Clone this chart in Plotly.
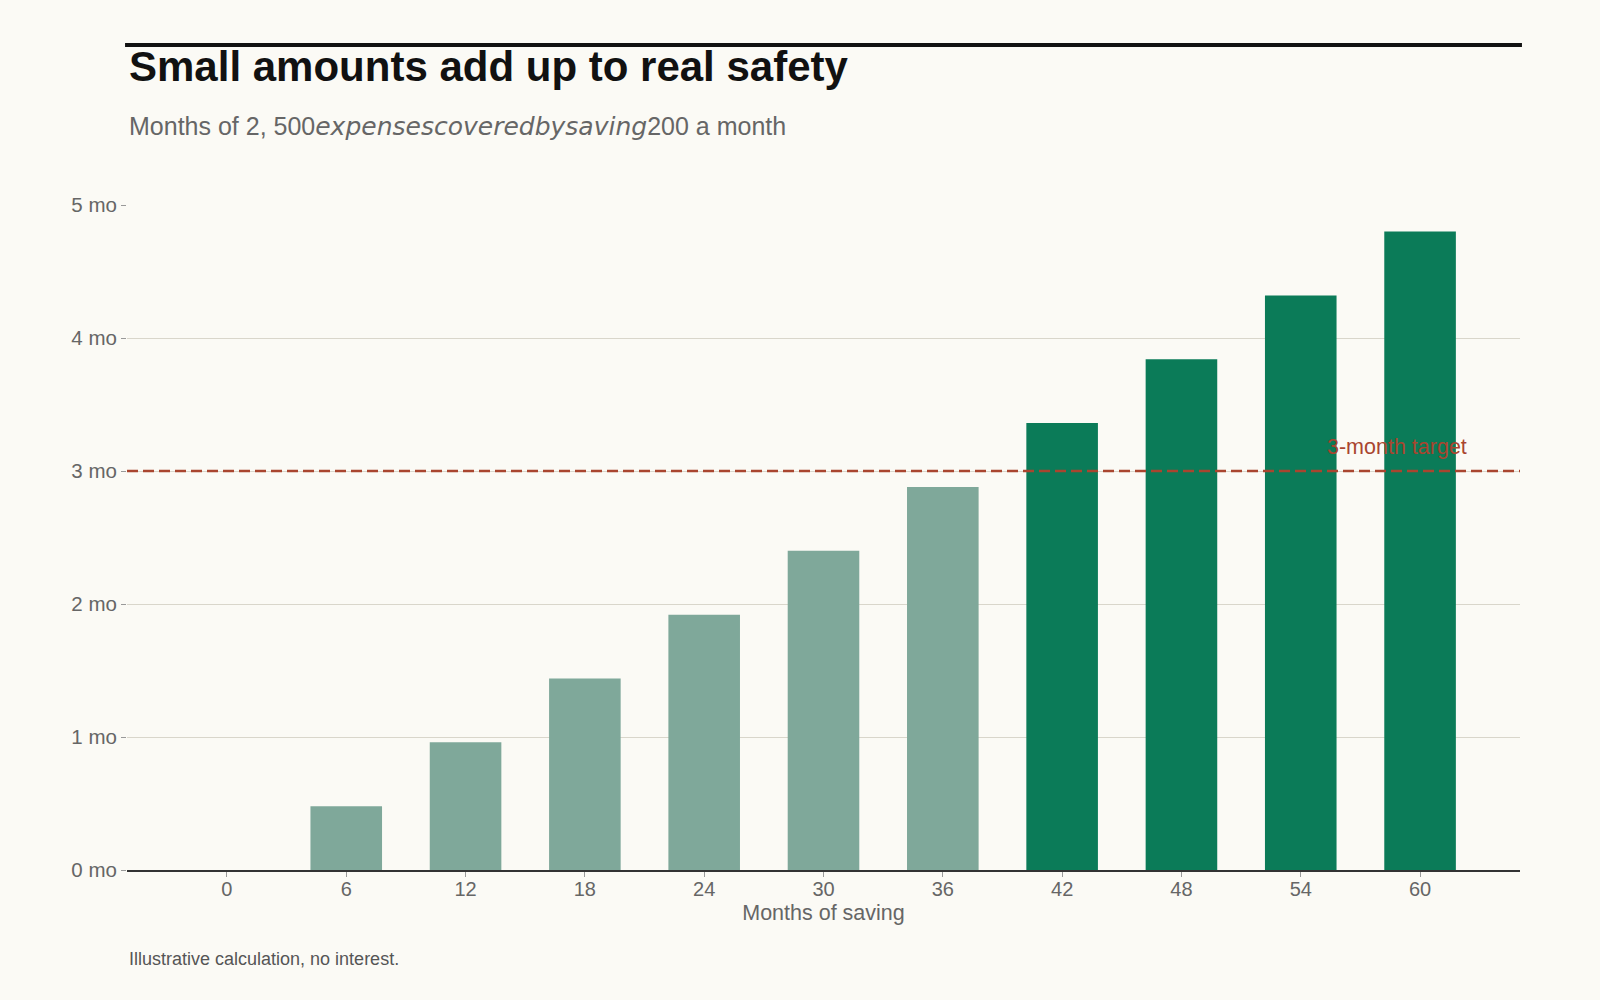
import plotly.graph_objects as go

# ---- data ----
months_saved = ["0", "6", "12", "18", "24", "30", "36", "42", "48", "54", "60"]
coverage_months = [0.0, 0.48, 0.96, 1.44, 1.92, 2.40, 2.88, 3.36, 3.84, 4.32, 4.80]
target_months = 3
y_tick_values = [0, 1, 2, 3, 4, 5]
y_tick_labels = ["0 mo", "1 mo", "2 mo", "3 mo", "4 mo", "5 mo"]

title_text = "Small amounts add up to real safety"
subtitle_parts = ["Months of 2, 500", "expensescoveredbysaving", "200 a month"]
x_title_text = "Months of saving"
target_label = "3-month target"
footnote_text = "Illustrative calculation, no interest."

# ---- styling ----
BG = "#fbfaf5"
LIGHT = "#7fa89a"
DARK = "#0b7b58"
RED = "#a9452f"
GRID = "#d9d6cb"
TXT = "#666666"
FONT = "Liberation Sans, Arial, sans-serif"

bar_colors = [DARK if v >= target_months else LIGHT for v in coverage_months]

subtitle_html = (subtitle_parts[0]
                 + "<i><span style='font-family:DejaVu Sans;font-size:25px'>"
                 + subtitle_parts[1] + "</span></i>" + subtitle_parts[2])

fig = go.Figure()
fig.add_trace(go.Bar(
    x=months_saved,
    y=coverage_months,
    marker=dict(color=bar_colors, line=dict(width=0)),
    hoverinfo="x+y",
))

fig.add_shape(type="line", xref="paper", yref="y", x0=0, x1=1,
              y0=target_months, y1=target_months,
              line=dict(color=RED, width=2.6, dash="11px,5px"), layer="above")

# top rule
fig.add_shape(type="line", xref="paper", yref="paper", x0=-0.0014, x1=1.0014,
              y0=1.2406, y1=1.2406, line=dict(color="#111111", width=4))

fig.add_annotation(text=target_label, xref="paper", yref="y", x=0.9634, y=target_months,
                   xanchor="right", yanchor="middle", yshift=24, showarrow=False,
                   font=dict(family=FONT, size=21.5, color=RED))

fig.add_annotation(text="<b>" + title_text + "</b>", xref="paper", yref="paper",
                   x=0, y=1.209, xanchor="left", yanchor="middle", showarrow=False,
                   font=dict(family=FONT, size=42, color="#111111"))
fig.add_annotation(text=subtitle_html, xref="paper", yref="paper",
                   x=0, y=1.118, xanchor="left", yanchor="middle", showarrow=False,
                   font=dict(family=FONT, size=25, color=TXT))
fig.add_annotation(text=footnote_text, xref="paper", yref="paper",
                   x=0, y=-0.1338, xanchor="left", yanchor="middle", showarrow=False,
                   font=dict(family=FONT, size=18, color="#555555"))

fig.update_layout(
    width=1600, height=1000,
    paper_bgcolor=BG, plot_bgcolor=BG,
    margin=dict(l=127, r=80, t=205, b=130),
    bargap=0.4,
    showlegend=False,
    font=dict(family=FONT, color=TXT),
    xaxis=dict(
        type="category",
        range=[-0.8375, 10.8375],
        showgrid=False,
        showline=True, linecolor="#333333", linewidth=1.5,
        ticks="outside", ticklen=5, tickcolor="#999999",
        ticklabelstandoff=-5,
        tickfont=dict(size=20, color=TXT),
        title=dict(text=x_title_text, font=dict(size=21.5, color=TXT), standoff=6),
    ),
    yaxis=dict(
        range=[0, 5],
        tickvals=y_tick_values, ticktext=y_tick_labels,
        showgrid=True, gridcolor=GRID, gridwidth=1.2,
        zeroline=False, showline=False,
        ticks="outside", ticklen=5, tickcolor="#999999",
        tickfont=dict(size=20.5, color=TXT),
        layer="above traces",
    ),
)

fig.write_html("out.html",
               config={"displayModeBar": False},
               post_script="document.body.style.margin='0';"
                           "document.body.style.background='#fbfaf5';")
